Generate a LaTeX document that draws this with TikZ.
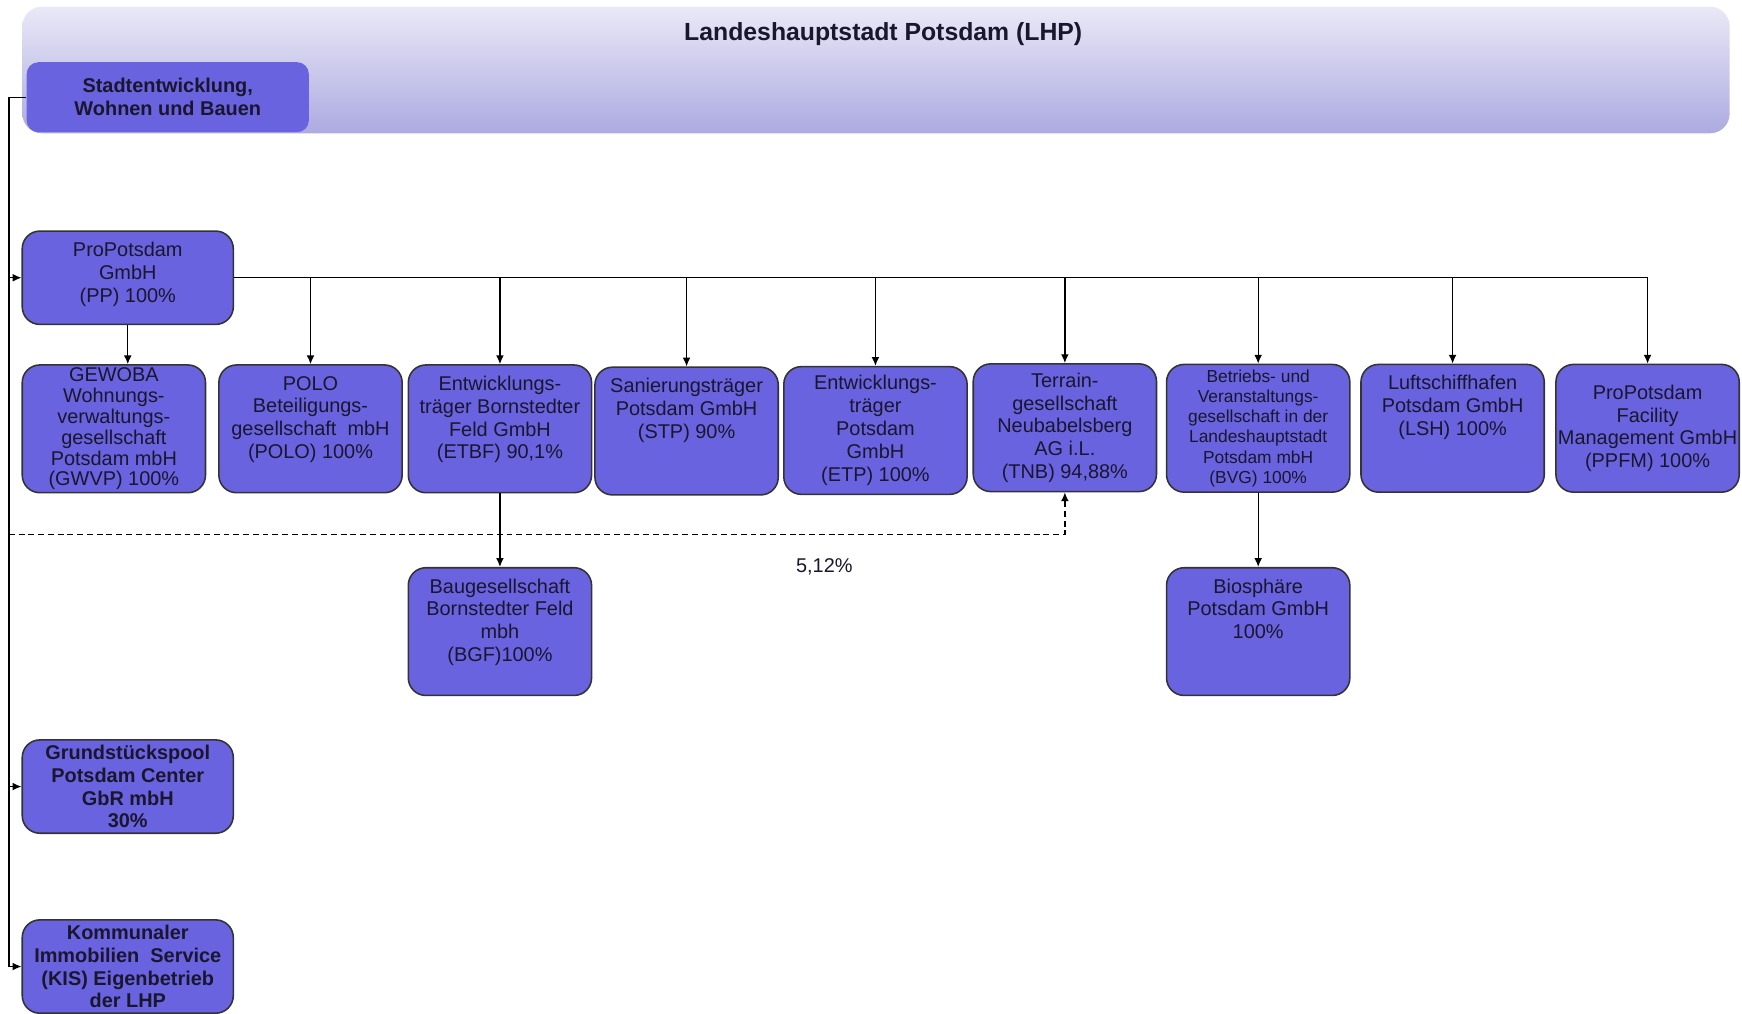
\documentclass[tikz,border=0pt]{standalone}
\usepackage{fontspec}
\setmainfont{Liberation Sans}
\usetikzlibrary{arrows.meta}

\definecolor{unitblue}{RGB}{106,99,224}
\definecolor{bannertop}{RGB}{234,233,247}
\definecolor{bannerbottom}{RGB}{172,170,224}
\definecolor{textdark}{RGB}{25,22,45}

\tikzset{
  unit/.style={draw=black!80, line width=0.8pt, fill=unitblue, rounded corners=9pt,
    minimum width=3.3cm, minimum height=2.3cm, inner sep=1pt, align=center,
    text=textdark, font=\fontsize{10.2}{11.7}\selectfont},
  headunit/.style={unit, minimum width=3.8cm, minimum height=1.68cm,
    font=\fontsize{10.2}{11.7}\selectfont\bfseries},
  link/.style={-{Latex[length=4.5pt,width=4pt]}, line width=0.7pt},
}

\begin{document}
\begin{tikzpicture}[x=0.02cm, y=-0.02cm]
    \clip (0,0) rectangle (1568,912);

    % Banner
    \node[top color=bannertop, bottom color=bannerbottom, rounded corners=10pt,
      minimum width=30.74cm, minimum height=2.28cm] (lhp) at (788.5,63) {};
    \node[text=textdark, font=\fontsize{12.7}{14}\selectfont\bfseries] (title) at (795,31)
      {Landeshauptstadt Potsdam (LHP)};
    \node[headunit, draw=none, rounded corners=6pt, minimum width=5.08cm,
      minimum height=1.26cm] (stadt) at (151,87.5) {Stadtentwicklung,\\Wohnen und Bauen};

    % Nodes
    \node[headunit, font=\fontsize{10.2}{11.7}\selectfont] (pp) at (115,250)
      {ProPotsdam\\GmbH\\(PP) 100\%\\[-6pt]~};
    \node[unit, font=\fontsize{10.2}{10.7}\selectfont] (gewoba) at (102.5,386)
      {GEWOBA\\Wohnungs-\\verwaltungs-\\gesellschaft\\Potsdam mbH\\(GWVP) 100\%};
    \node[unit] (polo) at (279.5,386) {POLO\\Beteiligungs-\\gesellschaft\ \ mbH\\(POLO) 100\%\\~};
    \node[unit] (etbf) at (450,386) {Entwicklungs-\\träger Bornstedter\\Feld GmbH\\(ETBF) 90,1\%\\~};
    \node[unit] (stp) at (618,388) {Sanierungsträger\\Potsdam GmbH\\(STP) 90\%\\~\\~};
    \node[unit] (etp) at (788,387.5) {Entwicklungs-\\träger\\Potsdam\\GmbH\\(ETP) 100\%};
    \node[unit] (tnb) at (958.5,385) {Terrain-\\gesellschaft\\Neubabelsberg\\AG i.L.\\(TNB) 94,88\%};
    \node[unit, font=\fontsize{8.9}{10.4}\selectfont] (bvg) at (1132.5,385.5)
      {Betriebs- und\\Veranstaltungs-\\gesellschaft in der\\Landeshauptstadt\\Potsdam mbH\\(BVG) 100\%};
    \node[unit] (lsh) at (1307.5,385.5) {Luftschiffhafen\\Potsdam GmbH\\(LSH) 100\%\\~\\~};
    \node[unit] (ppfm) at (1483,385.5) {ProPotsdam\\Facility\\Management GmbH\\(PPFM) 100\%};
    \node[unit] (bgf) at (450,568.5) {Baugesellschaft\\Bornstedter Feld\\mbh\\(BGF)100\%\\~};
    \node[unit] (bio) at (1132.5,568.5) {Biosphäre\\Potsdam GmbH\\100\%\\~\\~};
    \node[headunit] (gpc) at (115,708) {Grundstückspool\\Potsdam Center\\GbR mbH\\30\%};
    \node[headunit] (kis) at (115,870) {Kommunaler\\Immobilien\ \ Service\\(KIS) Eigenbetrieb\\der LHP};
    \node[text=textdark, font=\fontsize{10.2}{11.7}\selectfont] (share) at (742,510) {5,12\%};

    % Edges
    \coordinate (trunk) at (8,87.5);
    \coordinate (minority) at (8,481);
    \draw[link] (stadt.west) -- (trunk) |- (kis.west);
    \draw[link] (trunk |- pp.west) -- (pp.west);
    \draw[link] (trunk |- gpc.west) -- (gpc.west);
    \draw[link, dash pattern=on 3pt off 2pt] (minority) -| (tnb.south);
    \draw[link] (pp.south) -- (pp.south |- gewoba.north);
    \draw[link] (pp.east) -| (ppfm.north);
    \draw[link] (pp.east -| polo.north) -- (polo.north);
    \draw[link] (pp.east -| etbf.north) -- (etbf.north);
    \draw[link] (pp.east -| stp.north) -- (stp.north);
    \draw[link] (pp.east -| etp.north) -- (etp.north);
    \draw[link] (pp.east -| tnb.north) -- (tnb.north);
    \draw[link] (pp.east -| bvg.north) -- (bvg.north);
    \draw[link] (pp.east -| lsh.north) -- (lsh.north);
    \draw[link] (etbf.south) -- (bgf.north);
    \draw[link] (bvg.south) -- (bio.north);
\end{tikzpicture}
\end{document}
